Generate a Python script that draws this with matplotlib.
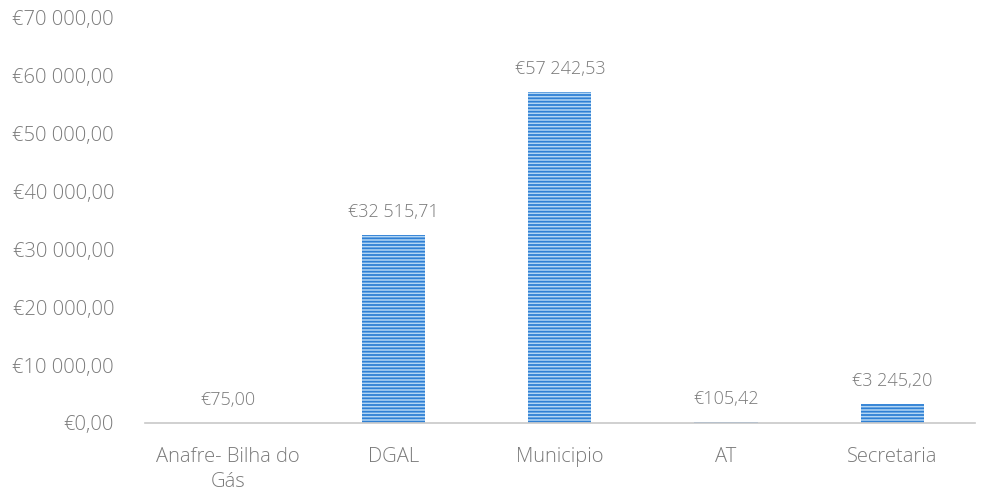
import matplotlib.pyplot as plt
from matplotlib.ticker import FuncFormatter

categories = ["Anafre- Bilha do\nGás", "DGAL", "Municipio", "AT", "Secretaria"]
values = [75.00, 32515.71, 57242.53, 105.42, 3245.20]
value_labels = ["€75,00", "€32 515,71", "€57 242,53", "€105,42", "€3 245,20"]


def euro(v, pos=None):
    s = f"{v:,.2f}".replace(",", " ").replace(".", ",")
    return "€" + s


plt.rcParams['font.family'] = ['Open Sans', 'DejaVu Sans']
plt.rcParams['font.weight'] = 'light'
plt.rcParams['hatch.linewidth'] = 1.3
grey = '#7a7a7a'

fig = plt.figure(figsize=(9.84, 4.93), dpi=100)
ax = fig.add_axes([0.147, 0.142, 0.844, 0.8215])

x = range(len(categories))
bars = ax.bar(x, values, width=0.38, color='#b3d6f4', edgecolor='#2f80d4',
              hatch='-----', linewidth=0)

for b, lab in zip(bars, value_labels):
    ax.annotate(lab, (b.get_x() + b.get_width() / 2, b.get_height()),
                xytext=(0, 10), textcoords='offset points', ha='center', va='bottom',
                fontsize=13, color=grey, fontweight='light')

ax.set_ylim(0, 70000)
ax.set_xlim(-0.5, 4.5)
ax.set_yticks(range(0, 70001, 10000))
ax.yaxis.set_major_formatter(FuncFormatter(euro))
ax.set_xticks(list(x))
ax.set_xticklabels(categories, linespacing=1.35)
ax.tick_params(axis='both', length=0, labelsize=14.5, labelcolor=grey)
ax.tick_params(axis='x', pad=17)
ax.tick_params(axis='y', pad=22)
for t in ax.get_xticklabels() + ax.get_yticklabels():
    t.set_fontweight('light')

for s in ['top', 'right', 'left']:
    ax.spines[s].set_visible(False)
ax.spines['bottom'].set_color('#c8c8c8')
ax.spines['bottom'].set_linewidth(1.2)

fig.savefig('out.png', dpi=100)
